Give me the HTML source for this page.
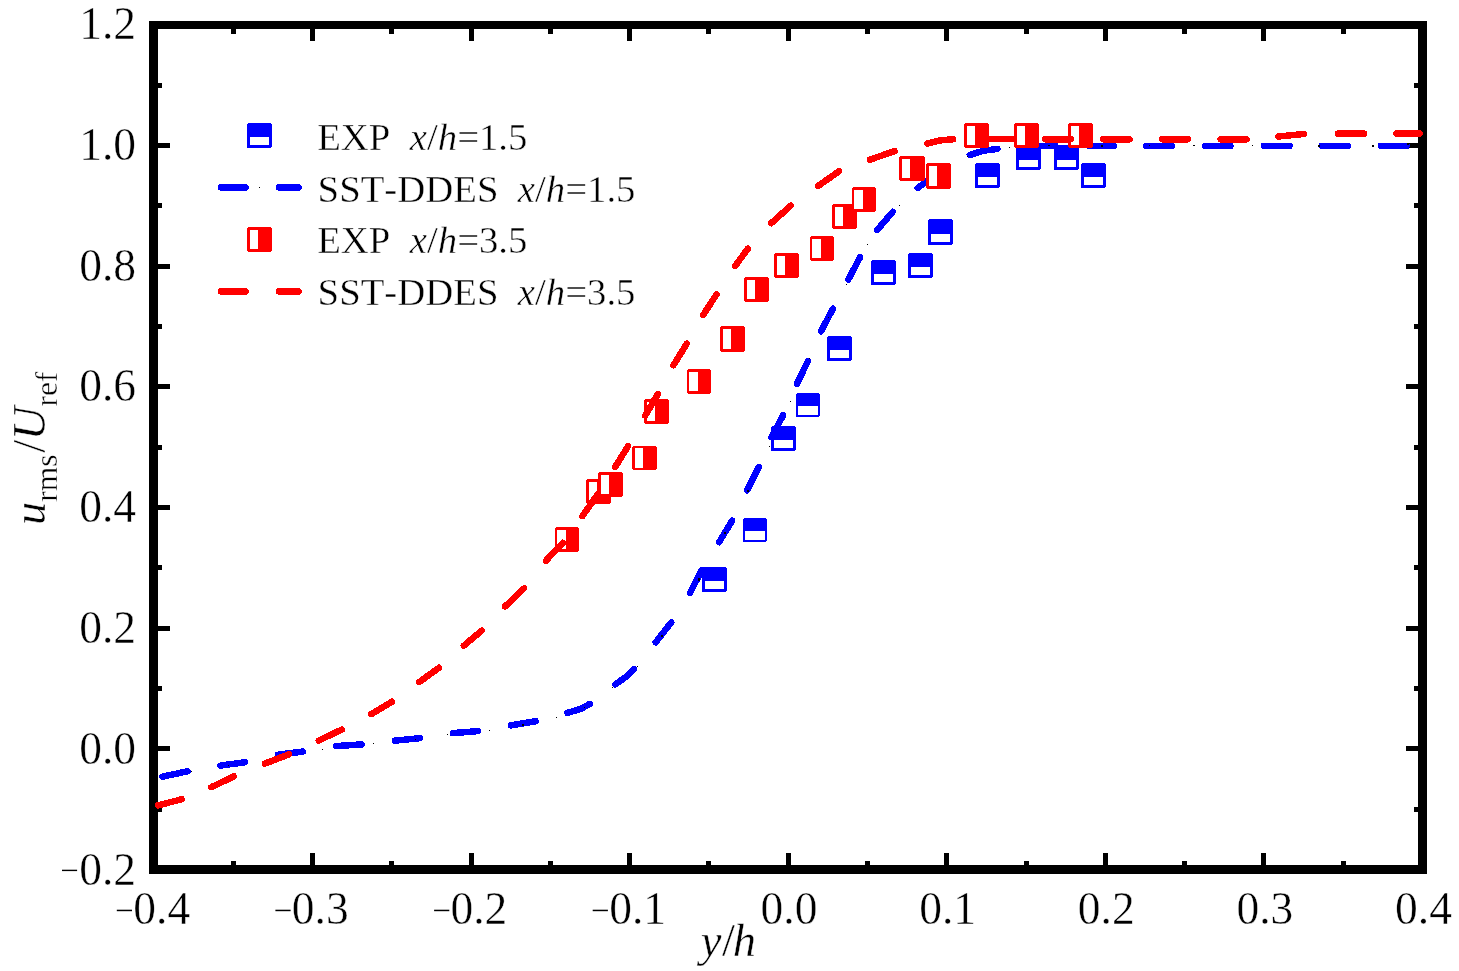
<!DOCTYPE html>
<html><head><meta charset="utf-8"><title>u_rms/U_ref</title>
<style>html,body{margin:0;padding:0;background:#fff;overflow:hidden}svg{display:block;will-change:transform}
text{font-family:"Liberation Serif",serif;fill:#000;font-kerning:none;font-variant-ligatures:none;stroke:#fff;stroke-width:0.4px;paint-order:fill stroke}
.t{font-size:45.5px}.l{font-size:38.75px}.s{font-size:31.5px}.tt{font-size:46.5px}.i{font-style:italic}
</style></head><body>
<svg width="1459" height="971" viewBox="0 0 1459 971">
<rect x="0" y="0" width="1459" height="971" fill="#fff"/>
<g fill="#000" shape-rendering="crispEdges">
<path fill-rule="evenodd" d="M149 21H1427V874H149Z M158 29H1418V865H158Z"/>
<rect x="310" y="853" width="5" height="12"/>
<rect x="310" y="29" width="5" height="12"/>
<rect x="469" y="853" width="5" height="12"/>
<rect x="469" y="29" width="5" height="12"/>
<rect x="627" y="853" width="5" height="12"/>
<rect x="627" y="29" width="5" height="12"/>
<rect x="786" y="853" width="5" height="12"/>
<rect x="786" y="29" width="5" height="12"/>
<rect x="944" y="853" width="5" height="12"/>
<rect x="944" y="29" width="5" height="12"/>
<rect x="1103" y="853" width="5" height="12"/>
<rect x="1103" y="29" width="5" height="12"/>
<rect x="1261" y="853" width="5" height="12"/>
<rect x="1261" y="29" width="5" height="12"/>
<rect x="231" y="861" width="5" height="4"/>
<rect x="231" y="29" width="5" height="5"/>
<rect x="389" y="861" width="5" height="4"/>
<rect x="389" y="29" width="5" height="5"/>
<rect x="548" y="861" width="5" height="4"/>
<rect x="548" y="29" width="5" height="5"/>
<rect x="706" y="861" width="5" height="4"/>
<rect x="706" y="29" width="5" height="5"/>
<rect x="865" y="861" width="5" height="4"/>
<rect x="865" y="29" width="5" height="5"/>
<rect x="1024" y="861" width="5" height="4"/>
<rect x="1024" y="29" width="5" height="5"/>
<rect x="1182" y="861" width="5" height="4"/>
<rect x="1182" y="29" width="5" height="5"/>
<rect x="1341" y="861" width="5" height="4"/>
<rect x="1341" y="29" width="5" height="5"/>
<rect x="158" y="746" width="12" height="5"/>
<rect x="1406" y="746" width="12" height="5"/>
<rect x="158" y="626" width="12" height="5"/>
<rect x="1406" y="626" width="12" height="5"/>
<rect x="158" y="505" width="12" height="5"/>
<rect x="1406" y="505" width="12" height="5"/>
<rect x="158" y="384" width="12" height="5"/>
<rect x="1406" y="384" width="12" height="5"/>
<rect x="158" y="264" width="12" height="5"/>
<rect x="1406" y="264" width="12" height="5"/>
<rect x="158" y="143" width="12" height="5"/>
<rect x="1406" y="143" width="12" height="5"/>
<rect x="158" y="807" width="4" height="5"/>
<rect x="1414" y="807" width="4" height="5"/>
<rect x="158" y="686" width="4" height="5"/>
<rect x="1414" y="686" width="4" height="5"/>
<rect x="158" y="565" width="4" height="5"/>
<rect x="1414" y="565" width="4" height="5"/>
<rect x="158" y="445" width="4" height="5"/>
<rect x="1414" y="445" width="4" height="5"/>
<rect x="158" y="324" width="4" height="5"/>
<rect x="1414" y="324" width="4" height="5"/>
<rect x="158" y="203" width="4" height="5"/>
<rect x="1414" y="203" width="4" height="5"/>
<rect x="158" y="83" width="4" height="5"/>
<rect x="1414" y="83" width="4" height="5"/>
</g>
<g class="t">
<text x="161.7" y="924.4" text-anchor="middle">0.4</text>
<rect x="116.8" y="909.7" width="15.2" height="1.5" />
<text x="320.3" y="924.4" text-anchor="middle">0.3</text>
<rect x="275.4" y="909.7" width="15.2" height="1.5" />
<text x="478.9" y="924.4" text-anchor="middle">0.2</text>
<rect x="434.1" y="909.7" width="15.2" height="1.5" />
<text x="637.6" y="924.4" text-anchor="middle">0.1</text>
<rect x="592.7" y="909.7" width="15.2" height="1.5" />
<text x="789.0" y="924.4" text-anchor="middle">0.0</text>
<text x="947.6" y="924.4" text-anchor="middle">0.1</text>
<text x="1106.2" y="924.4" text-anchor="middle">0.2</text>
<text x="1264.9" y="924.4" text-anchor="middle">0.3</text>
<text x="1423.5" y="924.4" text-anchor="middle">0.4</text>
<text x="136.0" y="884.9" text-anchor="end">0.2</text>
<rect x="62.0" y="869.7" width="15.1" height="1.4" />
<text x="136.0" y="764.0" text-anchor="end">0.0</text>
<text x="136.0" y="643.2" text-anchor="end">0.2</text>
<text x="136.0" y="522.3" text-anchor="end">0.4</text>
<text x="136.0" y="401.4" text-anchor="end">0.6</text>
<text x="136.0" y="280.5" text-anchor="end">0.8</text>
<text x="136.0" y="159.7" text-anchor="end">1.0</text>
<text x="136.0" y="38.8" text-anchor="end">1.2</text>
</g>
<text class="tt i" x="700.7" y="955.9">y<tspan style="font-style:normal" dx="0.6">/</tspan><tspan dx="-2">h</tspan></text>
<text class="tt i" transform="translate(44.7,525.0) rotate(-90)">u</text>
<text class="s" transform="translate(56.6,501.7) rotate(-90)">rms</text>
<text class="tt" transform="translate(44.7,452.8) rotate(-90)">/</text>
<text class="tt i" transform="translate(44.7,440.3) rotate(-90)">U</text>
<text class="s" transform="translate(56.6,406.6) rotate(-90)">ref</text>
<defs><clipPath id="cp"><rect x="150" y="20" width="1273.1" height="860"/></clipPath></defs>
<g clip-path="url(#cp)" shape-rendering="crispEdges">
<g>
<path fill="#0000ff" d="M703 567H726V568H727V591H726V592H702V568H703Z"/>
<rect x="705" y="581" width="19" height="8" fill="#fff"/>
<path fill="#0000ff" d="M744 518H766V519H767V541H766V542H743V519H744Z"/>
<rect x="745" y="531" width="20" height="9" fill="#fff"/>
<path fill="#0000ff" d="M772 426H795V427H796V450H795V451H771V427H772Z"/>
<rect x="774" y="440" width="19" height="8" fill="#fff"/>
<path fill="#0000ff" d="M797 393H819V394H820V416H819V417H796V394H797Z"/>
<rect x="798" y="406" width="20" height="9" fill="#fff"/>
<path fill="#0000ff" d="M828 336H851V337H852V360H851V361H827V337H828Z"/>
<rect x="830" y="350" width="19" height="8" fill="#fff"/>
<path fill="#0000ff" d="M872 260H895V261H896V284H895V285H871V261H872Z"/>
<rect x="874" y="274" width="19" height="8" fill="#fff"/>
<path fill="#0000ff" d="M909 253H932V254H933V277H932V278H908V254H909Z"/>
<rect x="911" y="267" width="19" height="8" fill="#fff"/>
<path fill="#0000ff" d="M929 219H952V220H953V244H952V245H928V220H929Z"/>
<rect x="931" y="234" width="19" height="8" fill="#fff"/>
<path fill="#0000ff" d="M976 163H999V164H1000V187H999V188H975V164H976Z"/>
<rect x="978" y="177" width="19" height="8" fill="#fff"/>
<path fill="#0000ff" d="M1017 145H1040V146H1041V169H1040V170H1016V146H1017Z"/>
<rect x="1019" y="160" width="19" height="7" fill="#fff"/>
<path fill="#0000ff" d="M1055 145H1078V146H1079V169H1078V170H1054V146H1055Z"/>
<rect x="1057" y="160" width="19" height="7" fill="#fff"/>
<path fill="#0000ff" d="M1082 163H1105V164H1106V187H1105V188H1081V164H1082Z"/>
<rect x="1084" y="177" width="19" height="8" fill="#fff"/>
</g>
<g stroke="#0000ff" stroke-width="6.5" stroke-linecap="round" fill="none">
<path d="M162.3 776.7 L187.4 771.3"/>
<path d="M220.4 765.6 L244.7 762.3"/>
<path d="M278.1 754.7 L302.8 751.6"/>
<path d="M336.3 746.1 L361.7 744.4"/>
<path d="M395.0 740.7 L419.7 738.2"/>
<path d="M452.9 733.1 L478.1 731.1"/>
<path d="M511.0 725.3 L535.7 721.2"/>
<path d="M567.4 712.9 L580.8 708.9 L589.7 703.9"/>
<path d="M615.4 684.4 L625.5 677.2 L633.9 669.2"/>
<path d="M655.7 642.3 L671.2 622.4"/>
<path d="M689.9 593.2 L701.8 570.0"/>
<path d="M719.1 542.2 L732.1 520.6"/>
<path d="M747.1 490.3 L758.8 467.1"/>
<path d="M771.6 437.2 L783.1 415.2"/>
<path d="M796.9 384.0 L807.8 361.2"/>
<path d="M821.0 331.3 L832.9 308.7"/>
<path d="M848.4 279.4 L860.1 257.2"/>
<path d="M877.2 230.0 L892.7 211.9"/>
<path d="M917.8 188.1 L931.8 176.8"/>
<path d="M969.8 155.0 L983.4 150.7 L997.4 148.9"/>
<path d="M1028.3 145.9 L1055.1 145.9"/>
<path d="M1089.4 145.9 L1113.7 145.9"/>
<path d="M1146.4 145.9 L1171.8 145.9"/>
<path d="M1205.1 145.9 L1230.4 145.9"/>
<path d="M1263.8 145.9 L1289.5 145.9"/>
<path d="M1321.7 145.9 L1347.8 145.9"/>
<path d="M1380.9 145.9 L1406.5 145.9"/>
</g>
<g fill="#000">
<rect x="191" y="771" width="1" height="1"/>
<rect x="228" y="765" width="1" height="1"/>
<rect x="322" y="749" width="1" height="1"/>
<rect x="373" y="743" width="1" height="1"/>
<rect x="415" y="739" width="1" height="1"/>
<rect x="447" y="734" width="1" height="1"/>
<rect x="447" y="734" width="1" height="1"/>
<rect x="489" y="730" width="1" height="1"/>
<rect x="522" y="724" width="2" height="2"/>
<rect x="556" y="717" width="1" height="1"/>
<rect x="584" y="707" width="1" height="1"/>
<rect x="612" y="687" width="1" height="1"/>
<rect x="637" y="666" width="1" height="1"/>
<rect x="661" y="635" width="2" height="2"/>
<rect x="698" y="579" width="2" height="2"/>
<rect x="698" y="578" width="2" height="2"/>
<rect x="724" y="532" width="2" height="2"/>
<rect x="724" y="532" width="2" height="2"/>
<rect x="747" y="490" width="2" height="2"/>
<rect x="769" y="446" width="1" height="1"/>
<rect x="790" y="401" width="1" height="1"/>
<rect x="809" y="358" width="1" height="1"/>
<rect x="828" y="317" width="1" height="1"/>
<rect x="846" y="284" width="1" height="1"/>
<rect x="867" y="244" width="1" height="1"/>
<rect x="867" y="244" width="1" height="1"/>
<rect x="899" y="205" width="1" height="1"/>
<rect x="899" y="205" width="1" height="1"/>
<rect x="967" y="156" width="1" height="1"/>
<rect x="1009" y="147" width="1" height="1"/>
<rect x="1048" y="145" width="1" height="1"/>
<rect x="1049" y="145" width="1" height="1"/>
<rect x="1101" y="145" width="2" height="2"/>
<rect x="1149" y="145" width="1" height="1"/>
<rect x="1193" y="145" width="1" height="1"/>
<rect x="1194" y="145" width="1" height="1"/>
<rect x="1252" y="145" width="1" height="1"/>
<rect x="1252" y="145" width="1" height="1"/>
<rect x="1318" y="145" width="2" height="2"/>
<rect x="1318" y="145" width="2" height="2"/>
<rect x="1372" y="145" width="2" height="2"/>
<rect x="1407" y="143" width="2" height="2"/>
</g>
<g>
<path fill="#ff0000" d="M556 527H578V528H579V551H578V552H556V551H555V528H556Z"/>
<rect x="557" y="530" width="9" height="19" fill="#fff"/>
<path fill="#ff0000" d="M587 479H610V480H611V503H610V504H587V503H586V480H587Z"/>
<rect x="589" y="482" width="8" height="19" fill="#fff"/>
<path fill="#ff0000" d="M599 472H622V473H623V496H622V497H599V496H598V473H599Z"/>
<rect x="601" y="475" width="8" height="19" fill="#fff"/>
<path fill="#ff0000" d="M633 446H656V447H657V469H656V470H633V469H632V447H633Z"/>
<rect x="635" y="448" width="8" height="20" fill="#fff"/>
<path fill="#ff0000" d="M645 399H668V400H669V423H668V424H645V423H644V400H645Z"/>
<rect x="647" y="402" width="8" height="19" fill="#fff"/>
<path fill="#ff0000" d="M688 369H710V370H711V393H710V394H688V393H687V370H688Z"/>
<rect x="689" y="372" width="9" height="19" fill="#fff"/>
<path fill="#ff0000" d="M721 326H744V327H745V351H744V352H721V351H720V327H721Z"/>
<rect x="723" y="329" width="8" height="20" fill="#fff"/>
<path fill="#ff0000" d="M745 277H768V278H769V301H768V302H745V301H744V278H745Z"/>
<rect x="747" y="280" width="8" height="19" fill="#fff"/>
<path fill="#ff0000" d="M775 253H798V254H799V277H798V278H775V277H774V254H775Z"/>
<rect x="777" y="256" width="8" height="19" fill="#fff"/>
<path fill="#ff0000" d="M811 236H833V237H834V260H833V261H811V260H810V237H811Z"/>
<rect x="812" y="239" width="9" height="19" fill="#fff"/>
<path fill="#ff0000" d="M833 204H856V205H857V228H856V229H833V228H832V205H833Z"/>
<rect x="835" y="207" width="8" height="19" fill="#fff"/>
<path fill="#ff0000" d="M853 187H875V188H876V211H875V212H853V211H852V188H853Z"/>
<rect x="854" y="190" width="9" height="19" fill="#fff"/>
<path fill="#ff0000" d="M900 156H924V157H925V180H924V181H900V180H899V157H900Z"/>
<rect x="902" y="159" width="8" height="19" fill="#fff"/>
<path fill="#ff0000" d="M927 163H950V164H951V188H950V189H927V188H926V164H927Z"/>
<rect x="929" y="166" width="8" height="20" fill="#fff"/>
<path fill="#ff0000" d="M965 123H988V124H989V147H988V148H965V147H964V124H965Z"/>
<rect x="967" y="126" width="8" height="19" fill="#fff"/>
<path fill="#ff0000" d="M1015 123H1038V124H1039V147H1038V148H1015V147H1014V124H1015Z"/>
<rect x="1017" y="126" width="8" height="19" fill="#fff"/>
<path fill="#ff0000" d="M1069 123H1092V124H1093V147H1092V148H1069V147H1068V124H1069Z"/>
<rect x="1071" y="126" width="8" height="19" fill="#fff"/>
</g>
<g stroke="#ff0000" stroke-width="6.5" stroke-linecap="round" fill="none">
<path d="M158.1 805.3 L181.7 799.3"/>
<path d="M211.3 787.2 L233.9 776.4"/>
<path d="M264.9 763.6 L289.0 754.3"/>
<path d="M318.8 740.5 L341.9 729.5"/>
<path d="M371.3 714.1 L391.9 701.8"/>
<path d="M419.3 682.0 L438.9 667.8"/>
<path d="M463.9 645.6 L481.8 630.6"/>
<path d="M505.0 606.5 L524.0 588.4"/>
<path d="M545.9 560.7 L562.8 542.8"/>
<path d="M582.4 516.1 L597.8 494.2"/>
<path d="M615.1 467.1 L628.1 446.1"/>
<path d="M645.2 415.6 L657.9 394.0"/>
<path d="M673.4 365.3 L686.8 343.7"/>
<path d="M703.2 314.9 L716.6 294.3"/>
<path d="M735.1 266.1 L747.9 248.6"/>
<path d="M771.2 223.2 L790.7 205.7"/>
<path d="M818.1 186.0 L839.1 171.2"/>
<path d="M870.0 159.7 L894.7 151.0"/>
<path d="M927.3 143.5 L940.3 140.4 L953.3 139.2"/>
<path d="M985.7 138.9 L1012.1 138.9"/>
<path d="M1045.1 139.3 L1070.9 139.3"/>
<path d="M1103.2 139.3 L1129.6 139.3"/>
<path d="M1162.1 139.3 L1187.8 139.3"/>
<path d="M1220.6 139.3 L1246.5 139.3"/>
<path d="M1278.3 136.5 L1303.7 134.0"/>
<path d="M1338.1 133.6 L1363.9 133.6"/>
<path d="M1396.5 133.6 L1419.6 133.6"/>
</g>
</g>
<g shape-rendering="crispEdges">
<path fill="#0000ff" d="M248 123H271V124H272V147H271V148H247V124H248Z"/>
<rect x="250" y="137" width="19" height="8" fill="#fff"/>
<path fill="#ff0000" d="M248 227H271V228H272V251H271V252H248V251H247V228H248Z"/>
<rect x="250" y="230" width="8" height="19" fill="#fff"/>
<g stroke-width="6.6" stroke-linecap="round" fill="none">
<path stroke="#0000ff" d="M221.2 187.4H245.6 M279.2 187.4H298.6"/>
<path stroke="#ff0000" d="M221.2 291.4H245.6 M279.2 291.4H298.6"/>
</g>
<rect x="258.8" y="186.9" width="1.1" height="1.1" fill="#000"/>
<g class="l" xml:space="preserve">
<text x="317.2" y="149.8" style="white-space:pre">EXP&#160;&#160;<tspan class="i">x</tspan>/<tspan class="i">h</tspan>=1.5</text>
<text x="317.6" y="201.6" style="white-space:pre">SST-DDES&#160;&#160;<tspan class="i">x</tspan>/<tspan class="i">h</tspan>=1.5</text>
<text x="317.2" y="253.4" style="white-space:pre">EXP&#160;&#160;<tspan class="i">x</tspan>/<tspan class="i">h</tspan>=3.5</text>
<text x="317.6" y="304.6" style="white-space:pre">SST-DDES&#160;&#160;<tspan class="i">x</tspan>/<tspan class="i">h</tspan>=3.5</text>
</g></g>
</svg></body></html>
